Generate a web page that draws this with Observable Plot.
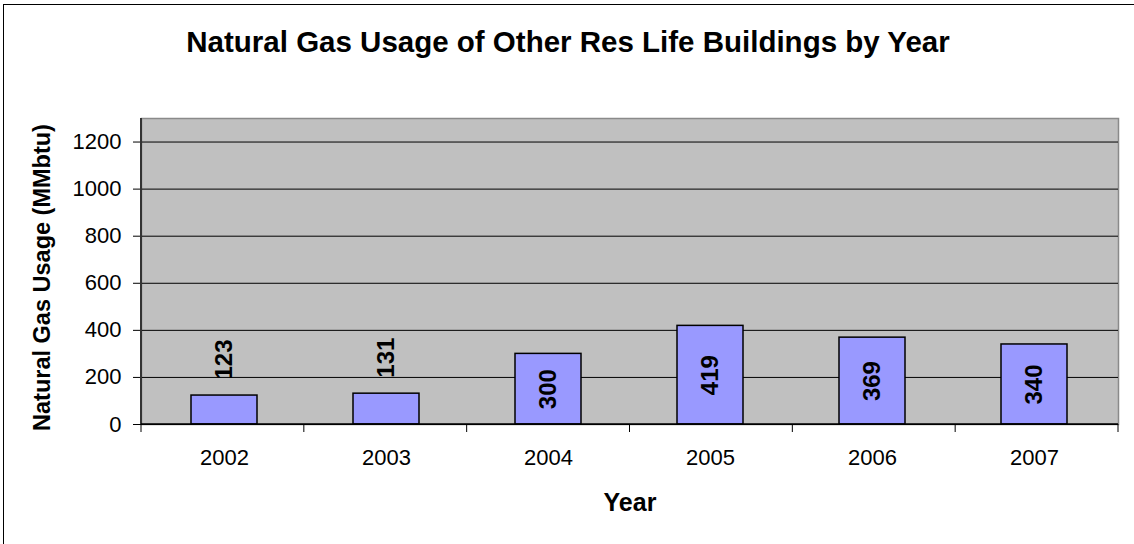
<!DOCTYPE html>
<html>
<head>
<meta charset="utf-8">
<script src="https://cdn.jsdelivr.net/npm/d3@7"></script>
<script src="https://cdn.jsdelivr.net/npm/@observablehq/plot@0.6"></script>
<style>
  html, body { margin: 0; padding: 0; background: #fff; overflow: hidden; }
  #wrap { position: relative; width: 1134px; height: 544px; }
  #border { position: absolute; left: 3px; top: 4px; width: 1140px; height: 550px; border: 1.5px solid #000; box-sizing: border-box; pointer-events: none; }
  #chart svg { display: block; }
</style>
</head>
<body>
<div id="wrap">
  <div id="chart"></div>
  <div id="border"></div>
</div>
<script>
const years = ["2002", "2003", "2004", "2005", "2006", "2007"];
const usage = [123, 131, 300, 419, 369, 340];
const yTicks = [0, 200, 400, 600, 800, 1000, 1200];
const titleText = "Natural Gas Usage of Other Res Life Buildings by Year";
const yLabel = "Natural Gas Usage (MMbtu)";
const xLabel = "Year";

const data = years.map((y, i) => ({year: y, value: usage[i]}));
const font = "'Liberation Sans', Arial, Helvetica, sans-serif";

// Excel-style category tick marks at band boundaries + left/bottom axis lines
function categoryTicks(index, scales, values, dim) {
  const g = d3.create("svg:g");
  const x0 = dim.marginLeft, x1 = dim.width - dim.marginRight;
  const yb = dim.height - dim.marginBottom, yt = dim.marginTop;
  const n = years.length, step = (x1 - x0) / n;
  for (let i = 0; i <= n; i++) {
    g.append("line").attr("x1", x0 + i * step).attr("x2", x0 + i * step)
      .attr("y1", yb).attr("y2", yb + 8).attr("stroke", "#000").attr("stroke-width", 1);
  }
  g.append("line").attr("x1", x0).attr("x2", x0).attr("y1", yt).attr("y2", yb)
    .attr("stroke", "#333").attr("stroke-width", 2);
  g.append("line").attr("x1", x0).attr("x2", x1).attr("y1", yb).attr("y2", yb)
    .attr("stroke", "#000").attr("stroke-width", 1.5);
  return g.node();
}

const chart = Plot.plot({
  width: 1134,
  height: 544,
  marginLeft: 141,
  marginRight: 16,
  marginTop: 118,
  marginBottom: 120,
  style: {fontFamily: font, background: "transparent", color: "#000"},
  x: {domain: years, paddingInner: 0.59, paddingOuter: 0.295, label: null},
  y: {domain: [0, 1300], label: null},
  marks: [
    Plot.frame({fill: "#C0C0C0", stroke: "#8a8a8a", strokeWidth: 1.5}),
    Plot.gridY(yTicks, {stroke: "#000", strokeOpacity: 1, strokeWidth: 1}),
    Plot.axisY(yTicks, {tickSize: 8, tickPadding: 12, fontSize: 22, stroke: "#000", label: null, tickFormat: d => String(d)}),
    Plot.axisX({tickSize: 0, tickPadding: 25, fontSize: 22, label: null}),
    Plot.barY(data, {x: "year", y: "value", fill: "#9999FF", stroke: "#000", strokeWidth: 1.5}),
    categoryTicks,
    Plot.text(data.filter(d => d.value >= 200), {
      x: "year", y: d => d.value / 2, text: d => String(d.value),
      rotate: -90, textAnchor: "middle", lineAnchor: "middle",
      fontSize: 24, fontWeight: "bold", fill: "#000"
    }),
    Plot.text(data.filter(d => d.value < 200), {
      x: "year", y: "value", text: d => String(d.value),
      rotate: -90, textAnchor: "start", lineAnchor: "middle", dy: -16,
      fontSize: 24, fontWeight: "bold", fill: "#000"
    }),
    Plot.text([titleText], {
      frameAnchor: "top", dy: -76, dx: -62, lineAnchor: "middle",
      fontSize: 29.5, fontWeight: "bold", fill: "#000"
    }),
    Plot.text([yLabel], {
      frameAnchor: "left", dx: -99, dy: 6, rotate: -90, lineAnchor: "middle", textAnchor: "middle",
      fontSize: 23.5, fontWeight: "bold", fill: "#000"
    }),
    Plot.text([xLabel], {
      frameAnchor: "bottom", dy: 78, lineAnchor: "middle",
      fontSize: 25, fontWeight: "bold", fill: "#000"
    })
  ]
});
document.getElementById("chart").appendChild(chart);
</script>
</body>
</html>
